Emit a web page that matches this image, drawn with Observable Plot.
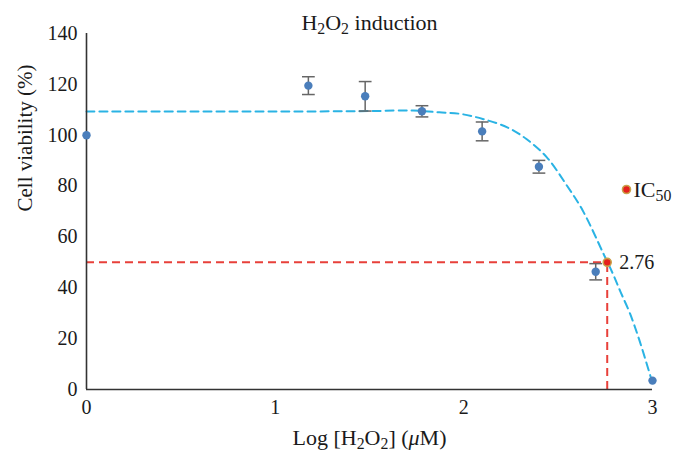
<!DOCTYPE html>
<html>
<head>
<meta charset="utf-8">
<script src="https://cdn.jsdelivr.net/npm/d3@7"></script>
<script src="https://cdn.jsdelivr.net/npm/@observablehq/plot@0.6"></script>
<style>
  html, body { margin: 0; padding: 0; background: #fff; }
  #chart svg { display: block; }
</style>
</head>
<body>
<div id="chart"></div>
<script>
// ---- Data ----
const logConc   = [0, 1.176, 1.477, 1.778, 2.097, 2.398, 2.699, 3.0];
const viability = [100, 119.5, 115.3, 109.4, 101.5, 87.6, 46.3, 3.5];
const errSD     = [0, 3.5, 5.8, 2.2, 3.7, 2.5, 3.2, 0];

// dose-response fit curve
const fitX = [0, 0.5, 1.0, 1.5, 1.73, 1.87, 1.98, 2.1, 2.23, 2.33, 2.44, 2.54, 2.63, 2.74, 2.79, 2.83, 2.88, 2.93, 2.99];
const fitY = [109.3, 109.3, 109.3, 109.5, 109.7, 109.0, 108.4, 106.4, 103.1, 98.6, 91.3, 80.9, 70.4, 53.4, 45.5, 38.5, 30.0, 19.5, 5.0];

const ic50X = [2.76];
const ic50Y = [50];
const ic50Label = ["2.76"];

const xTicks = [0, 1, 2, 3];
const yTicks = [0, 20, 40, 60, 80, 100, 120, 140];

const titleText = "H2O2 induction";
const xLabel = "Log [H2O2] (μM)";
const yLabel = "Cell viability (%)";
const legendText = "IC50";

// ---- Derived tables ----
const points = logConc.map((x, i) => ({x, y: viability[i], e: errSD[i]}));
const bars = points.filter(d => d.e > 0);
const fit = fitX.map((x, i) => ({x, y: fitY[i]}));
const ic50 = ic50X.map((x, i) => ({x, y: ic50Y[i], label: ic50Label[i]}));

const capSymbol = { draw(ctx, size) { const w = Math.sqrt(size) * 0.9; ctx.moveTo(-w, 0); ctx.lineTo(w, 0); } };

const blue = "#4a7ebb";
const cyan = "#2ab3e4";
const red = "#e8403a";
const ink = "#1a1a1a";

const chart = Plot.plot({
  width: 683,
  height: 460,
  marginLeft: 86,
  marginRight: 31,
  marginTop: 33,
  marginBottom: 71,
  style: { fontFamily: "'Liberation Serif', 'Times New Roman', serif", fontSize: "20px", color: ink, background: "#fff" },
  x: { domain: [0, 3], ticks: xTicks, tickFormat: d => String(d), tickSize: 0, tickPadding: 10, label: null },
  y: { domain: [0, 140], ticks: yTicks, tickFormat: d => String(d), tickSize: 0, tickPadding: 9, label: null },
  marks: [
    // IC50 guide lines
    Plot.ruleY(ic50, { y: "y", x1: 0, x2: "x", stroke: red, strokeWidth: 2, strokeDasharray: "8,5" }),
    Plot.ruleX(ic50, { x: "x", y1: 0, y2: "y", stroke: red, strokeWidth: 2, strokeDasharray: "8,5" }),
    // fit curve
    Plot.line(fit, { x: "x", y: "y", stroke: cyan, strokeWidth: 2, strokeDasharray: "8,5", curve: "catmull-rom" }),
    // axis lines
    Plot.ruleX([0], { stroke: "#333", strokeWidth: 1.6 }),
    Plot.ruleY([0], { x1: 0, x2: 3, stroke: "#333", strokeWidth: 1.6 }),
    // error bars
    Plot.ruleX(bars, { x: "x", y1: d => d.y - d.e, y2: d => d.y + d.e, stroke: "#666", strokeWidth: 1.5 }),
    Plot.dot(bars, { x: "x", y: d => d.y - d.e, symbol: capSymbol, r: 4, stroke: "#666", strokeWidth: 1.5 }),
    Plot.dot(bars, { x: "x", y: d => d.y + d.e, symbol: capSymbol, r: 4, stroke: "#666", strokeWidth: 1.5 }),
    // data points
    Plot.dot(points, { x: "x", y: "y", r: 4.2, fill: blue }),
    // IC50 point and label
    Plot.dot(ic50, { x: "x", y: "y", r: 4, fill: "#e5201d", stroke: "#c9a24a", strokeWidth: 1.6 }),
    Plot.text(ic50, { x: "x", y: "y", text: "label", dx: 12, textAnchor: "start", lineAnchor: "middle", fontSize: 20, fill: ink }),
    // legend
    Plot.dot([legendText], { frameAnchor: "top-right", dx: -26, dy: 156, r: 4, fill: "#e5201d", stroke: "#c9a24a", strokeWidth: 1.6 }),
    Plot.text([legendText], { frameAnchor: "top-right", dx: -19, dy: 156, text: d => d, textAnchor: "start", lineAnchor: "middle", fontSize: 22, fill: ink }),
    // title and axis titles
    Plot.text([titleText], { frameAnchor: "top", dy: -11, text: d => d, lineAnchor: "middle", fontSize: 22, fill: ink }),
    Plot.text([xLabel], { frameAnchor: "bottom", dy: 48, text: d => d, lineAnchor: "middle", fontSize: 22, fill: ink }),
    Plot.text([yLabel], { frameAnchor: "left", dx: -61, rotate: -90, text: d => d, lineAnchor: "middle", fontSize: 21, fill: ink })
  ]
});

document.getElementById("chart").appendChild(chart);

// ---- Subscript formatting of real text ----
const richText = {
  "H2O2 induction": [["H"], ["2", "sub"], ["O"], ["2", "sub"], [" induction"]],
  "Log [H2O2] (μM)": [["Log [H"], ["2", "sub"], ["O"], ["2", "sub"], ["] ("], ["μ", "it"], ["M)"]],
  "IC50": [["IC"], ["50", "sub"]]
};
d3.select(chart).selectAll("text").each(function () {
  const key = this.textContent;
  const parts = richText[key];
  if (!parts) return;
  const sel = d3.select(this);
  const oldSpan = this.querySelector("tspan");
  const baseDy = oldSpan ? oldSpan.getAttribute("dy") : null;
  sel.selectAll("*").remove();
  sel.text(null);
  let shifted = false;
  parts.forEach(([t, kind], i) => {
    const ts = sel.append("tspan").text(t);
    if (i === 0 && baseDy) ts.attr("dy", baseDy);
    if (kind === "sub") {
      ts.attr("font-size", "0.72em");
      if (!shifted) { ts.attr("dy", "0.3em"); shifted = true; }
    } else {
      if (shifted) { ts.attr("dy", "-0.216em"); shifted = false; }
      if (kind === "it") ts.attr("font-style", "italic");
    }
  });
});
</script>
</body>
</html>
